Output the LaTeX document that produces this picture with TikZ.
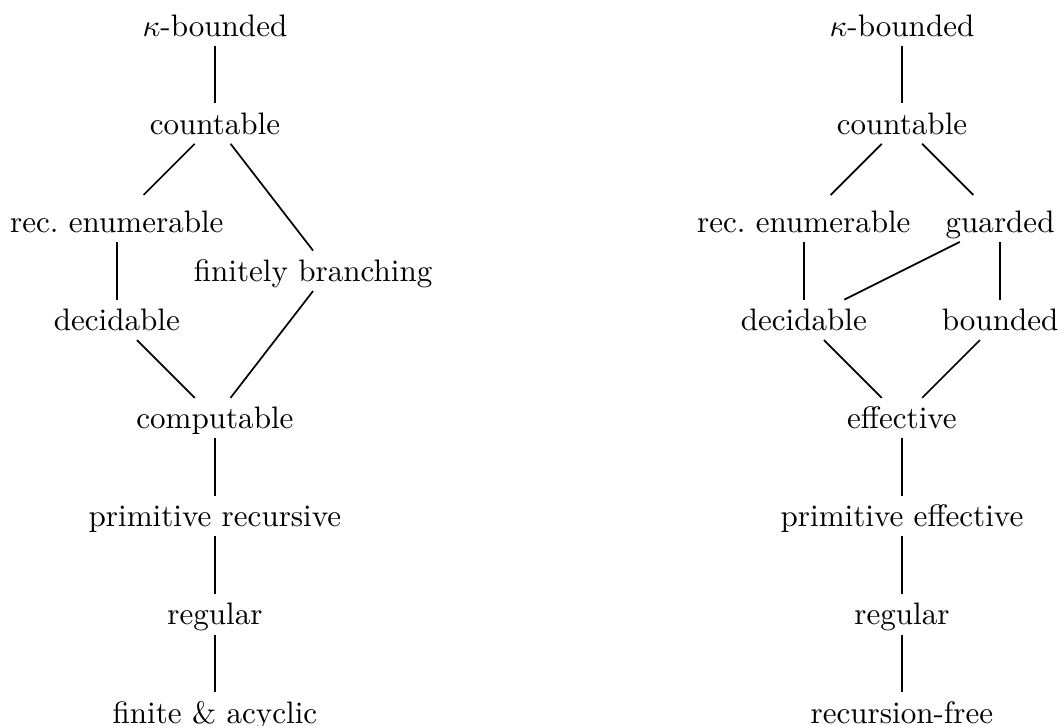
\documentclass[tikz,border=0pt]{standalone}
\begin{document}
\begin{tikzpicture}[x=1.11cm, y=1.11cm]
    \tikzstyle{elem} = [anchor=base, inner sep=2.9pt, text height=6.8pt, text depth=0pt]
    \tikzstyle{cover} = [line width=0.55pt]
    \tikzstyle{shortcover} = [cover, shorten >=3pt]
    \useasboundingbox (-2.19, 0.367) rectangle (8.60, -7.03);
    % left hierarchy
    \node[elem] (kbL) at (0, 0) {$\kappa$-bounded};
    \node[elem] (cntL) at (0, -1) {countable};
    \node[elem] (recL) at (-1, -2) {rec.\ enumerable};
    \node[elem] (finL) at (1, -2.5) {finitely branching};
    \node[elem] (decL) at (-1, -3) {decidable};
    \node[elem] (compL) at (0, -4) {computable};
    \node[elem] (primL) at (0, -5) {primitive recursive};
    \node[elem] (regL) at (0, -6) {regular};
    \node[elem] (acycL) at (0, -7) {finite \& acyclic};
    \draw[cover] (kbL) -- (cntL);
    \draw[shortcover] (cntL) -- (recL);
    \draw[cover] (cntL) -- (finL.north);
    \draw[cover] (recL) -- (decL);
    \draw[cover] (decL) -- (compL);
    \draw[cover] (finL.south) -- (compL);
    \draw[cover] (compL) -- (primL);
    \draw[cover] (primL) -- (regL);
    \draw[cover] (regL) -- (acycL);
    % right hierarchy
    \node[elem] (kbR) at (7, 0) {$\kappa$-bounded};
    \node[elem] (cntR) at (7, -1) {countable};
    \node[elem] (recR) at (6, -2) {rec.\ enumerable};
    \node[elem] (grdR) at (8, -2) {guarded};
    \node[elem] (decR) at (6, -3) {decidable};
    \node[elem] (bndR) at (8, -3) {bounded};
    \node[elem] (effR) at (7, -4) {effective};
    \node[elem] (primR) at (7, -5) {primitive effective};
    \node[elem] (regR) at (7, -6) {regular};
    \node[elem] (freeR) at (7, -7) {recursion-free};
    \draw[cover] (kbR) -- (cntR);
    \draw[shortcover] (cntR) -- (recR);
    \draw[shortcover] (cntR) -- (grdR);
    \draw[cover] (recR) -- (decR);
    \draw[cover] (grdR) -- (decR);
    \draw[cover] (grdR) -- (bndR);
    \draw[cover] (decR) -- (effR);
    \draw[cover] (bndR) -- (effR);
    \draw[cover] (effR) -- (primR);
    \draw[cover] (primR) -- (regR);
    \draw[cover] (regR) -- (freeR);
\end{tikzpicture}
\end{document}
